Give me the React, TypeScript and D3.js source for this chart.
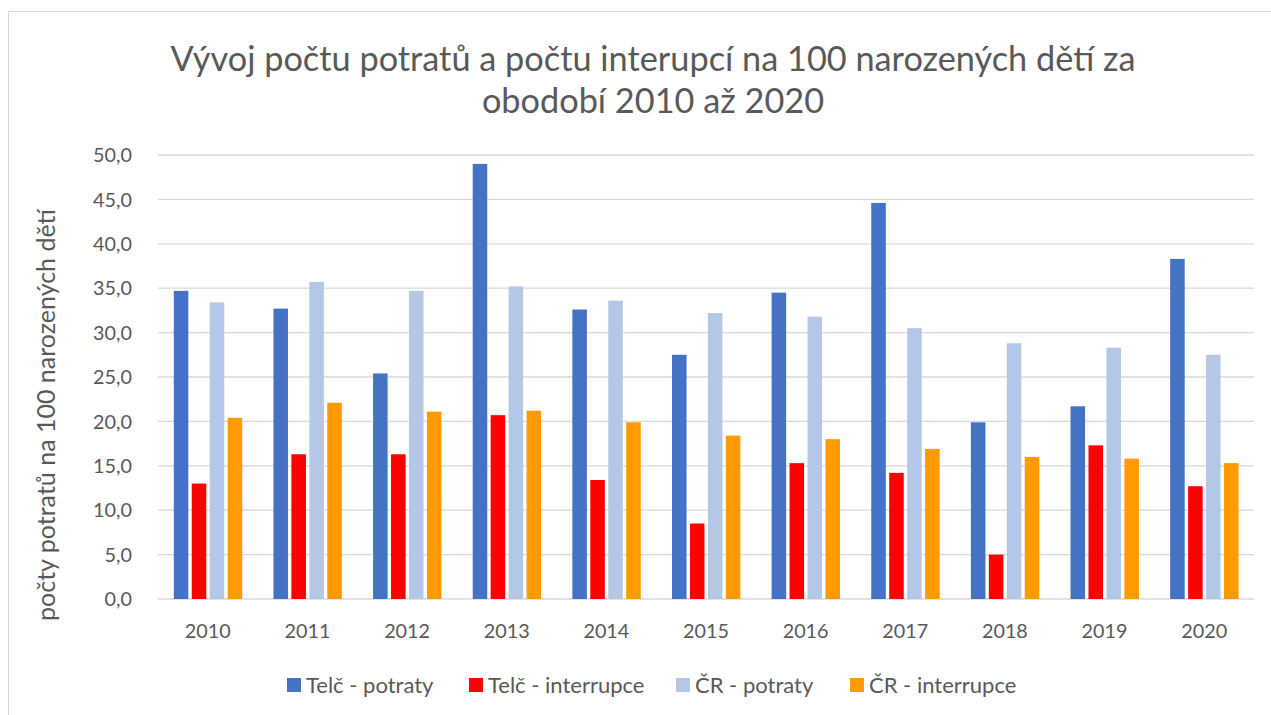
import * as d3 from 'd3';
import React from 'react';

const years = ['2010', '2011', '2012', '2013', '2014', '2015', '2016', '2017', '2018', '2019', '2020'];
const seriesNames = ['Telč - potraty', 'Telč - interrupce', 'ČR - potraty', 'ČR - interrupce'];
const seriesColors = ['#4472C4', '#FF0000', '#B4C7E7', '#FF9A00'];
const telcPotraty = [34.7, 32.7, 25.4, 49.0, 32.6, 27.5, 34.5, 44.6, 19.9, 21.7, 38.3];
const telcInterrupce = [13.0, 16.3, 16.3, 20.7, 13.4, 8.5, 15.3, 14.2, 5.0, 17.3, 12.7];
const crPotraty = [33.4, 35.7, 34.7, 35.2, 33.6, 32.2, 31.8, 30.5, 28.8, 28.3, 27.5];
const crInterrupce = [20.4, 22.1, 21.1, 21.2, 19.9, 18.4, 18.0, 16.9, 16.0, 15.8, 15.3];
const yTicks = [0, 5, 10, 15, 20, 25, 30, 35, 40, 45, 50];

const W = 1271, H = 715;
const left = 158, right = 1254, top = 155, bottom = 599;
const FONT = 'Lato, "Liberation Sans", sans-serif';
const TEXT = '#595959';

export default function App() {
    const values = [telcPotraty, telcInterrupce, crPotraty, crInterrupce];
    const x0 = d3.scaleBand().domain(years).range([left, right]);
    const x1 = d3.scaleBand().domain(seriesNames)
        .range([15.8, 84.2]).paddingInner(0.19);
    const y = d3.scaleLinear().domain([0, 50]).range([bottom, top]);
    const fmt = (v: number) => d3.format('.1f')(v).replace('.', ',');

    // legend square positions
    const legendX = [287, 469, 676, 850];

    return (
        <svg width={W} height={H} style={{ position: 'absolute', left: 0, top: 0, background: '#fff' }}>
            <line x1={8.5} x2={W} y1={11.5} y2={11.5} stroke="#D9D9D9" />
            <line x1={8.5} x2={8.5} y1={11.5} y2={H} stroke="#D9D9D9" />
            <text x={653} y={71} textAnchor="middle" fontSize={34.3} fill={TEXT} fontFamily={FONT}>
                Vývoj počtu potratů a počtu interupcí na 100 narozených dětí za
            </text>
            <text x={653} y={113} textAnchor="middle" fontSize={34.3} fill={TEXT} fontFamily={FONT}>
                obodobí 2010 až 2020
            </text>
            {yTicks.map(t => (
                <g key={t}>
                    <line x1={left} x2={right} y1={y(t)} y2={y(t)} stroke="#D9D9D9" strokeWidth={1.3} />
                    <text x={132} y={y(t)} dy="0.36em" textAnchor="end" fontSize={19.8} fill={TEXT} fontFamily={FONT}>
                        {fmt(t)}
                    </text>
                </g>
            ))}
            {years.map((yr, i) => (
                <g key={yr} transform={`translate(${x0(yr)},0)`}>
                    {seriesNames.map((s, j) => (
                        <rect key={s} x={x1(s)} width={x1.bandwidth()}
                            y={y(values[j][i])} height={bottom - y(values[j][i])}
                            fill={seriesColors[j]} />
                    ))}
                    <text x={x0.bandwidth() / 2} y={638} textAnchor="middle" fontSize={19.8} fill={TEXT} fontFamily={FONT}>
                        {yr}
                    </text>
                </g>
            ))}
            <text transform={`translate(55,${415}) rotate(-90)`} textAnchor="middle"
                fontSize={25} fill={TEXT} fontFamily={FONT}>
                počty potratů na 100 narozených dětí
            </text>
            {seriesNames.map((s, j) => (
                <g key={s} transform={`translate(${legendX[j]},685)`}>
                    <rect x={0} y={-7} width={14} height={14} fill={seriesColors[j]} />
                    <text x={19} y={0} dy="0.36em" fontSize={22} fill={TEXT} fontFamily={FONT}>{s}</text>
                </g>
            ))}
        </svg>
    );
}
